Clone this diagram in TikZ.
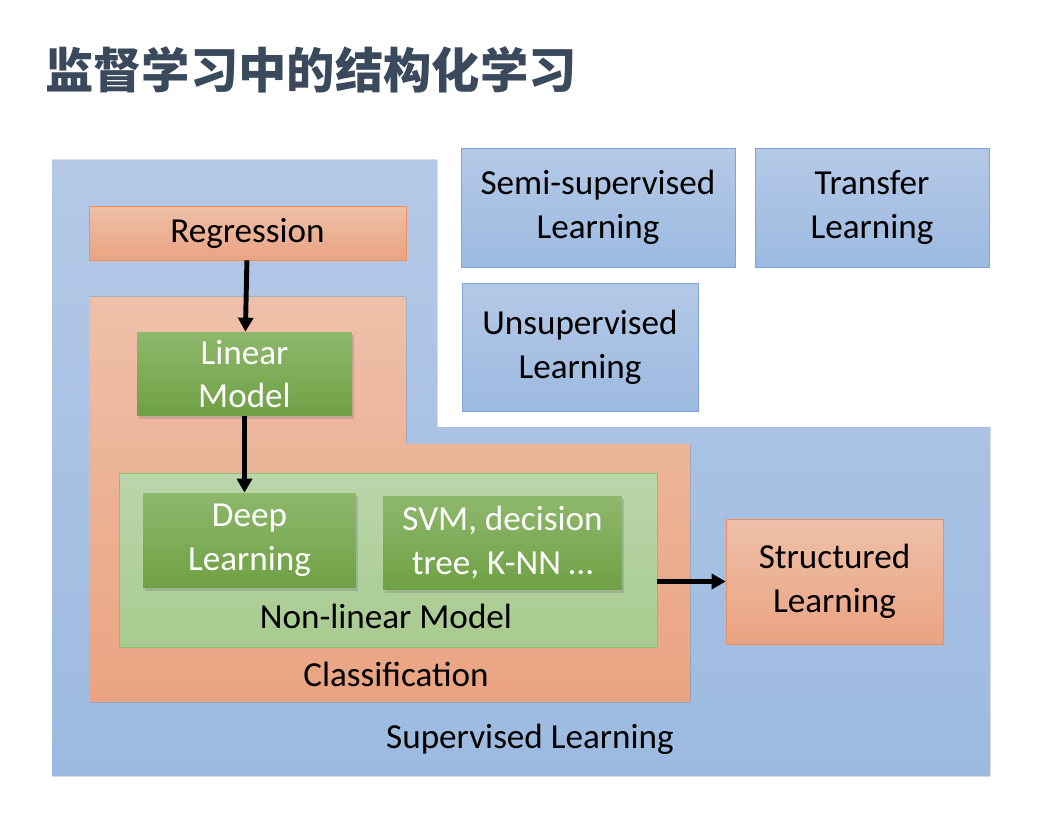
\documentclass[tikz,border=0pt]{standalone}
\usepackage{fontspec}
\setmainfont{Carlito}
\newfontfamily\cjk{Noto Sans CJK SC}
\usetikzlibrary{arrows.meta,positioning,shadows}
\definecolor{titleink}{HTML}{3A4A5C}
\definecolor{skytop}{HTML}{B5C9E7}
\definecolor{skybot}{HTML}{9CBAE0}
\definecolor{skyline}{HTML}{7FA4D8}
\definecolor{peachtop}{HTML}{EEC0A9}
\definecolor{peachbot}{HTML}{EAA381}
\definecolor{peachline}{HTML}{EE8F5C}
\definecolor{leaftop}{HTML}{8EB86C}
\definecolor{leafbot}{HTML}{6FA044}
\definecolor{mosstop}{HTML}{BAD6AB}
\definecolor{mossbot}{HTML}{A8CB8F}
\definecolor{mossline}{HTML}{8DC16B}

\begin{document}
\begin{tikzpicture}[x=0.02cm, y=-0.02cm,
  lbl/.style={font=\fontsize{20}{25}\selectfont, align=center, inner sep=0pt},
  bluebox/.style={lbl, draw=skyline, top color=skytop, bottom color=skybot},
  peachbox/.style={lbl, draw=peachline, top color=peachtop, bottom color=peachbot},
  leafbox/.style={lbl, text=white, top color=leaftop, bottom color=leafbot,
                  drop shadow={shadow xshift=1.2pt, shadow yshift=-1.5pt, opacity=0.35}},
  arr/.style={-{Triangle[length=2.8mm, width=3mm]}, line width=2.8pt, black}]
  \useasboundingbox (0,0) rectangle (1052,814);
  % title
  \node[anchor=west, text=titleink, inner sep=0pt,
        font=\cjk\bfseries\fontsize{27.5}{33}\selectfont] (title) at (45,70)
    {监督学习中的结构化学习};
  % supervised region
  \fill[top color=skytop, bottom color=skybot]
    (52,160) -- (437,160) -- (437,427) -- (990,427) -- (990,776) -- (52,776) -- cycle;
  \node[lbl] (suplbl) at (530,739) {Supervised Learning};
  % other learning settings
  \node[bluebox, minimum width=5.48cm, minimum height=2.38cm] (semi) at (598,207.5)
    {Semi-supervised\\Learning};
  \node[bluebox, minimum width=4.68cm, minimum height=2.38cm] (transfer) at (872,207.5)
    {Transfer\\Learning};
  \node[bluebox, minimum width=4.72cm, minimum height=2.56cm] (unsup) at (580,347)
    {Unsupervised\\Learning};
  % classification region
  \fill[top color=peachtop, bottom color=peachbot]
    (89,297) -- (406,297) -- (406,444) -- (690,444) -- (690,702) -- (89,702) -- cycle;
  \node[lbl] (classlbl) at (396,674) {Classification};
  \node[peachbox, minimum width=6.34cm, minimum height=1.08cm] (regr) at (247.5,233)
    {Regression};
  % models
  \node[lbl, leafbox, minimum width=4.30cm, minimum height=1.68cm] (linear) at (244.5,374)
    {Linear\\Model};
  \node[draw=mossline, top color=mosstop, bottom color=mossbot,
        minimum width=10.76cm, minimum height=3.48cm] (nonlin) at (388,560) {};
  \node[lbl] (nonlinlbl) at (386,616) {Non-linear Model};
  \node[leafbox, minimum width=4.26cm, minimum height=1.90cm] (deep) at (249.5,540.5)
    {Deep\\Learning};
  \node[leafbox, minimum width=4.78cm, minimum height=1.88cm] (svm) at (502.5,543)
    {SVM, decision\\tree, K-NN …};
  \node[peachbox, minimum width=4.34cm, minimum height=2.50cm] (struct) at (834.5,581.5)
    {Structured\\Learning};
  % arrows
  \draw[arr] (regr) -- (linear);
  \draw[arr] (linear.south) -- (linear.south |- deep.north);
  \draw[arr] (nonlin.east |- struct.west) -- (struct.west);
\end{tikzpicture}
\end{document}
